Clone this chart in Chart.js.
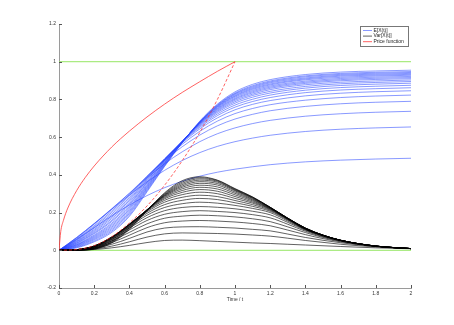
<!DOCTYPE html>
<html>
<head>
<meta charset="utf-8">
<script src="https://cdn.jsdelivr.net/npm/chart.js@4.4.1/dist/chart.umd.min.js"></script>
<style>
  html, body { margin: 0; padding: 0; background: #fff; }
  #wrap { width: 454px; height: 325px; }
</style>
</head>
<body>
<div id="wrap"><canvas id="chart" width="454" height="325"></canvas></div>
<script>
// time grid of the E[X(t)] family
const times = [0, 0.1, 0.2, 0.3, 0.4, 0.5, 0.6, 0.7, 0.8, 0.9, 1.0, 1.1, 1.2, 1.4, 1.6, 1.8, 2.0];
// time grid of the Var[X(t)] family (finer where the humps fall off)
const varTimes = [0, 0.1, 0.2, 0.3, 0.4, 0.5, 0.6, 0.7, 0.8, 0.9, 1.0, 1.1, 1.2, 1.3, 1.4, 1.5, 1.6, 1.8, 2.0];

// E[X(t)], lowest level first
const mean01 = [0, .058, .120, .183, .240, .290, .332, .366, .393, .414, .430, .443, .454, .469, .478, .484, .488];
const mean02 = [0, .068, .141, .218, .292, .362, .424, .476, .518, .551, .576, .595, .610, .630, .642, .649, .654];
const mean03 = [0, .067, .142, .221, .302, .384, .459, .522, .576, .618, .649, .672, .689, .711, .724, .732, .737];
const mean04 = [0, .064, .138, .218, .302, .393, .476, .549, .611, .660, .696, .721, .740, .763, .777, .785, .790];
const mean05 = [0, .060, .130, .209, .295, .391, .482, .562, .631, .685, .725, .752, .772, .796, .810, .818, .823];
const mean06 = [0, .056, .124, .201, .288, .389, .485, .570, .644, .702, .745, .774, .794, .819, .833, .841, .846];
const mean07 = [0, .053, .118, .192, .280, .384, .485, .574, .652, .714, .759, .789, .810, .836, .850, .857, .862];
const mean08 = [0, .049, .111, .183, .271, .379, .483, .576, .658, .723, .770, .801, .823, .849, .863, .870, .875];
const mean09 = [0, .046, .105, .176, .264, .374, .481, .578, .663, .731, .780, .812, .834, .860, .874, .881, .886];
const mean10 = [0, .043, .099, .168, .255, .368, .478, .578, .667, .737, .788, .821, .843, .869, .883, .890, .895];
const mean11 = [0, .039, .093, .159, .247, .361, .475, .578, .670, .742, .795, .828, .852, .878, .891, .898, .903];
const mean12 = [0, .037, .088, .153, .240, .357, .473, .578, .673, .747, .801, .835, .859, .885, .899, .906, .910];
const mean13 = [0, .033, .081, .144, .231, .350, .468, .576, .674, .751, .806, .841, .865, .891, .905, .912, .916];
const mean14 = [0, .030, .076, .137, .224, .344, .465, .576, .676, .755, .812, .847, .871, .897, .911, .918, .922];
const mean15 = [0, .028, .071, .130, .217, .339, .462, .575, .678, .759, .817, .853, .877, .904, .917, .924, .928];
const mean16 = [0, .025, .066, .123, .209, .333, .459, .574, .679, .762, .821, .858, .882, .909, .923, .929, .933];
const mean17 = [0, .022, .061, .116, .202, .328, .455, .573, .680, .765, .826, .863, .888, .914, .928, .934, .938];
const mean18 = [0, .019, .056, .109, .195, .322, .452, .572, .681, .768, .830, .868, .893, .920, .933, .939, .943];
const mean19 = [0, .016, .050, .102, .187, .316, .448, .570, .682, .771, .834, .873, .898, .925, .938, .944, .948];
const mean20 = [0, .013, .045, .095, .180, .310, .445, .570, .685, .775, .840, .880, .905, .932, .945, .951, .955];

// Var[X(t)], lowest hump first
const var01 = [0, .0005, .004, .013, .026, .041, .052, .054, .051, .047, .043, .039, .036, .032, .028, .024, .020, .013, .008];
const var02 = [0, .001, .007, .022, .045, .070, .087, .092, .091, .089, .086, .081, .075, .064, .052, .042, .032, .018, .009];
const var03 = [0, .0015, .010, .032, .063, .097, .118, .124, .125, .122, .118, .111, .103, .086, .068, .053, .040, .020, .009];
const var04 = [0, .002, .013, .041, .080, .120, .146, .155, .158, .155, .150, .142, .130, .107, .083, .062, .045, .021, .009];
const var05 = [0, .0025, .016, .050, .095, .140, .170, .181, .186, .183, .177, .167, .152, .124, .094, .068, .048, .022, .009];
const var06 = [0, .003, .019, .058, .108, .158, .191, .205, .210, .206, .200, .189, .172, .138, .101, .072, .050, .022, .009];
const var07 = [0, .0035, .021, .064, .118, .173, .210, .227, .232, .228, .220, .207, .188, .148, .106, .075, .051, .022, .009];
const var08 = [0, .0035, .022, .068, .126, .186, .227, .247, .255, .250, .238, .222, .200, .155, .109, .077, .052, .022, .009];
const var09 = [0, .0035, .023, .070, .132, .196, .242, .265, .275, .269, .252, .233, .207, .160, .111, .078, .052, .022, .009];
const var10 = [0, .0035, .023, .071, .136, .204, .255, .281, .292, .285, .264, .242, .212, .163, .112, .078, .052, .022, .009];
const var11 = [0, .003, .022, .070, .138, .209, .265, .295, .308, .300, .275, .250, .216, .165, .113, .079, .053, .022, .009];
const var12 = [0, .003, .021, .068, .139, .212, .273, .307, .322, .313, .285, .256, .219, .166, .114, .079, .053, .022, .009];
const var13 = [0, .0025, .019, .065, .138, .214, .279, .317, .334, .325, .294, .262, .221, .167, .115, .079, .053, .022, .009];
const var14 = [0, .002, .017, .062, .136, .215, .284, .326, .345, .336, .302, .267, .223, .168, .116, .080, .053, .022, .009];
const var15 = [0, .0015, .015, .058, .133, .215, .288, .334, .355, .346, .309, .271, .225, .169, .116, .080, .053, .022, .009];
const var16 = [0, .001, .013, .054, .129, .214, .291, .341, .364, .354, .315, .275, .226, .169, .117, .080, .053, .022, .009];
const var17 = [0, .001, .011, .050, .125, .213, .294, .348, .372, .361, .319, .278, .227, .170, .117, .080, .053, .022, .009];
const var18 = [0, .0007, .009, .046, .120, .212, .297, .355, .379, .366, .322, .280, .228, .170, .118, .080, .053, .022, .009];
const var19 = [0, .0005, .008, .043, .116, .211, .301, .362, .385, .370, .325, .282, .228, .170, .118, .080, .053, .0225, .009];
const var20 = [0, .0002, .006, .039, .111, .210, .305, .369, .390, .372, .327, .283, .228, .170, .118, .080, .053, .0225, .009];

// price function and the dashed red curve
const priceTimes = [0, 0.01, 0.025, 0.05, 0.1, 0.15, 0.2, 0.3, 0.4, 0.5, 0.6, 0.7, 0.8, 0.9, 1.0];
const priceValues = [0, .100, .158, .224, .316, .387, .447, .548, .632, .707, .775, .837, .894, .949, 1.0];
const dashTimes = [0, 0.1, 0.2, 0.3, 0.4, 0.5, 0.6, 0.7, 0.8, 0.9, 1.0];
const dashValues = [0, .004, .025, .072, .145, .235, .345, .475, .625, .800, 1.0];

// green reference lines
const refTimes = [0, 2];
const lowerRef = [0, 0];
const upperRef = [1, 1];

const xTicks = [0, 0.2, 0.4, 0.6, 0.8, 1, 1.2, 1.4, 1.6, 1.8, 2];
const yTicks = [-0.2, 0, 0.2, 0.4, 0.6, 0.8, 1, 1.2];
const legendLabels = ['E[X(t)]', 'Var[X(t)]', 'Price function'];

const meanSeries = [mean01, mean02, mean03, mean04, mean05, mean06, mean07, mean08, mean09, mean10,
    mean11, mean12, mean13, mean14, mean15, mean16, mean17, mean18, mean19, mean20];
const varSeries = [var01, var02, var03, var04, var05, var06, var07, var08, var09, var10,
    var11, var12, var13, var14, var15, var16, var17, var18, var19, var20];

const BLUE = 'rgba(40, 70, 255, 0.55)';
const BLACK = 'rgba(0, 0, 0, 0.62)';
const RED = 'rgba(255, 45, 45, 0.75)';
const GREEN = 'rgb(150, 230, 100)';
const FONT = "'Liberation Sans', Arial, sans-serif";

const toPoints = (xs, ys) => xs.map((x, i) => ({ x: x, y: ys[i] }));

const curve = (xs, ys, color, order, dash) => ({
    data: toPoints(xs, ys),
    borderColor: color,
    borderWidth: 1,
    borderDash: dash || [],
    pointRadius: 0,
    fill: false,
    cubicInterpolationMode: 'monotone',
    order: order
});

const datasets = [];
datasets.push(curve(refTimes, lowerRef, GREEN, 5));
datasets.push(curve(refTimes, upperRef, GREEN, 5));
meanSeries.forEach(s => datasets.push(curve(times, s, BLUE, 4)));
varSeries.forEach(s => datasets.push(curve(varTimes, s, BLACK, 3)));
datasets.push(curve(dashTimes, dashValues, RED, 2, [3, 2]));
datasets.push(curve(priceTimes, priceValues, RED, 1));

// inward tick marks and the boxed legend in the top right corner
const decorations = {
    id: 'decorations',
    afterDraw(chart) {
        const ctx = chart.ctx;
        const xs = chart.scales.x;
        const ys = chart.scales.y;
        const area = chart.chartArea;
        ctx.save();
        ctx.strokeStyle = '#555';
        ctx.lineWidth = 1;
        ctx.beginPath();
        xTicks.forEach(v => {
            const px = Math.round(xs.getPixelForValue(v)) + 0.5;
            ctx.moveTo(px, area.bottom);
            ctx.lineTo(px, area.bottom - 3);
        });
        yTicks.forEach(v => {
            const py = Math.round(ys.getPixelForValue(v)) + 0.5;
            ctx.moveTo(area.left, py);
            ctx.lineTo(area.left + 3, py);
        });
        ctx.stroke();

        const bx = area.right - 51, by = area.top + 2, bw = 48, bh = 20;
        ctx.fillStyle = '#fff';
        ctx.fillRect(bx, by, bw, bh);
        ctx.strokeStyle = '#777';
        ctx.strokeRect(bx + 0.5, by + 0.5, bw, bh);
        const colors = [BLUE, BLACK, RED];
        ctx.font = '5px ' + FONT;
        ctx.textBaseline = 'middle';
        legendLabels.forEach((label, i) => {
            const ly = by + 4.5 + i * 5.6;
            ctx.strokeStyle = colors[i];
            ctx.beginPath();
            ctx.moveTo(bx + 3, ly);
            ctx.lineTo(bx + 12, ly);
            ctx.stroke();
            ctx.fillStyle = '#222';
            ctx.fillText(label, bx + 13.5, ly);
        });
        ctx.restore();
    }
};

new Chart(document.getElementById('chart'), {
    type: 'line',
    data: { datasets: datasets },
    options: {
        responsive: false,
        animation: false,
        events: [],
        layout: { padding: { left: 0, right: 43, top: 24, bottom: 20 } },
        plugins: {
            legend: { display: false },
            tooltip: { enabled: false }
        },
        scales: {
            x: {
                type: 'linear',
                min: 0,
                max: 2,
                afterBuildTicks: scale => { scale.ticks = xTicks.map(v => ({ value: v })); },
                afterFit: scale => { scale.height = 17; },
                grid: { display: false, drawTicks: false },
                border: { display: true, color: '#9a9a9a', width: 1 },
                ticks: {
                    padding: 3,
                    autoSkip: false,
                    maxRotation: 0,
                    color: '#333',
                    font: { size: 5, family: FONT },
                    callback: v => String(Math.round(v * 10) / 10)
                },
                title: {
                    display: true,
                    text: 'Time / t',
                    color: '#333',
                    font: { size: 5, family: FONT },
                    padding: { top: 0, bottom: 2 }
                }
            },
            y: {
                type: 'linear',
                min: -0.2,
                max: 1.2,
                afterBuildTicks: scale => { scale.ticks = yTicks.map(v => ({ value: v })); },
                afterFit: scale => { scale.width = 59; },
                grid: { display: false, drawTicks: false },
                border: { display: true, color: '#9a9a9a', width: 1 },
                ticks: {
                    padding: 3,
                    autoSkip: false,
                    color: '#333',
                    font: { size: 5, family: FONT },
                    callback: v => String(Math.round(v * 10) / 10)
                }
            }
        }
    },
    plugins: [decorations]
});
</script>
</body>
</html>
